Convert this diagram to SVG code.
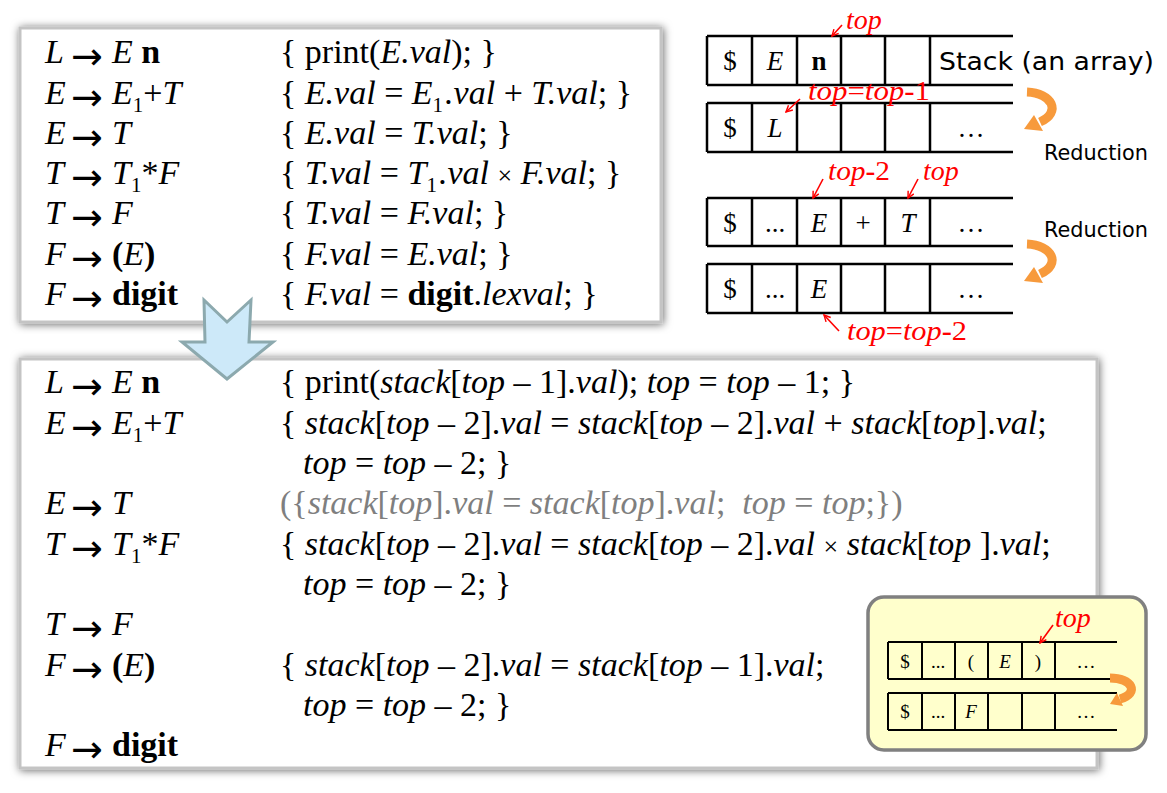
<svg xmlns="http://www.w3.org/2000/svg" width="1167" height="793" viewBox="0 0 1167 793">
<defs>
<style>
.t{font-family:'Liberation Serif','Times New Roman',serif;font-size:34px;fill:#000}
.i{font-style:italic}
.b{font-weight:bold}
.ar{font-family:'DejaVu Sans',sans-serif;font-size:38px;fill:#000}
.sub{font-size:21px}
.x{font-size:26px}
.gr{fill:#7f7f7f}
.red{font-family:'Liberation Serif','Times New Roman',serif;font-size:28px;fill:#ff0000}
.cell{font-family:'Liberation Serif','Times New Roman',serif;font-size:27px;fill:#000;text-anchor:middle}
.ycell{font-family:'Liberation Serif','Times New Roman',serif;font-size:19px;fill:#000;text-anchor:middle}
.sans{font-family:'DejaVu Sans','Liberation Sans',sans-serif;fill:#000}
.grid{stroke:#000;stroke-width:2.5;fill:none}
.ygrid{stroke:#000;stroke-width:2;fill:none}
.rl{stroke:#ff0000;stroke-width:1.6;fill:none}
.or{stroke:#f79a3c;stroke-width:9;fill:none}
.orh{fill:#f79a3c}
.box{fill:#fff;stroke:#c4c4c4;stroke-width:3}
</style>
<filter id="sh" x="-4%" y="-4%" width="108%" height="108%">
<feGaussianBlur in="SourceAlpha" stdDeviation="4"/>
<feOffset dx="1" dy="1" result="b"/>
<feFlood flood-color="#000" flood-opacity="0.6"/>
<feComposite in2="b" operator="in"/>
<feMerge><feMergeNode/><feMergeNode in="SourceGraphic"/></feMerge>
</filter>
<marker id="rh" viewBox="0 0 10 10" refX="9" refY="5" markerWidth="8" markerHeight="8" orient="auto" markerUnits="userSpaceOnUse">
<path d="M1,1 L9,5 L1,9" fill="none" stroke="#f00" stroke-width="1.8"/>
</marker>
</defs>

<g id="box-original">
<rect class="box" x="20" y="28" width="641" height="294" filter="url(#sh)"/>
<text class="t i" x="45" y="63">L</text><text class="ar" x="71" y="69">→</text><text class="t" x="112" y="63"><tspan class="i">E</tspan> <tspan class="b">n</tspan></text>
<text class="t" x="280" y="63">{ print(<tspan class="i">E.val</tspan>); }</text>
<text class="t i" x="45" y="104">E</text><text class="ar" x="71" y="110">→</text><text class="t" x="112" y="104"><tspan class="i">E</tspan><tspan class="sub" dy="8">1</tspan><tspan dy="-8">+</tspan><tspan class="i">T</tspan></text>
<text class="t" x="280" y="104">{ <tspan class="i">E.val</tspan> = <tspan class="i">E</tspan><tspan class="sub" dy="8">1</tspan><tspan class="i" dx="2" dy="-8">.val</tspan> + <tspan class="i">T.val</tspan>; }</text>
<text class="t i" x="45" y="144">E</text><text class="ar" x="71" y="150">→</text><text class="t i" x="112" y="144">T</text>
<text class="t" x="280" y="144">{ <tspan class="i">E.val</tspan> = <tspan class="i">T.val</tspan>; }</text>
<text class="t i" x="45" y="184">T</text><text class="ar" x="71" y="190">→</text><text class="t" x="112" y="184"><tspan class="i">T</tspan><tspan class="sub" dy="8">1</tspan><tspan dy="-8">*</tspan><tspan class="i">F</tspan></text>
<text class="t" x="280" y="184">{ <tspan class="i">T.val</tspan> = <tspan class="i">T</tspan><tspan class="sub" dy="8">1</tspan><tspan class="i" dx="2" dy="-8">.val</tspan> <tspan class="x">×</tspan> <tspan class="i">F.val</tspan>; }</text>
<text class="t i" x="45" y="224">T</text><text class="ar" x="71" y="230">→</text><text class="t i" x="112" y="224">F</text>
<text class="t" x="280" y="224">{ <tspan class="i">T.val</tspan> = <tspan class="i">F.val</tspan>; }</text>
<text class="t i" x="45" y="265">F</text><text class="ar" x="71" y="271">→</text><text class="t" x="112" y="265"><tspan class="b">(</tspan><tspan class="i">E</tspan><tspan class="b">)</tspan></text>
<text class="t" x="280" y="265">{ <tspan class="i">F.val</tspan> = <tspan class="i">E.val</tspan>; }</text>
<text class="t i" x="45" y="305">F</text><text class="ar" x="71" y="311">→</text><text class="t b" x="112" y="305">digit</text>
<text class="t" x="280" y="305">{ <tspan class="i">F.val</tspan> = <tspan class="b">digit</tspan>.<tspan class="i">lexval</tspan>; }</text>
</g>

<g id="box-stack">
<rect class="box" x="20" y="359" width="1077" height="409" filter="url(#sh)"/>
<text class="t i" x="45" y="393">L</text><text class="ar" x="71" y="399">→</text><text class="t" x="112" y="393"><tspan class="i">E</tspan> <tspan class="b">n</tspan></text>
<text class="t" x="280" y="393">{ print(<tspan class="i">stack</tspan>[<tspan class="i">top</tspan> – 1].<tspan class="i">val</tspan>); <tspan class="i">top</tspan> = <tspan class="i">top</tspan> – 1; }</text>
<text class="t i" x="45" y="434">E</text><text class="ar" x="71" y="440">→</text><text class="t" x="112" y="434"><tspan class="i">E</tspan><tspan class="sub" dy="8">1</tspan><tspan dy="-8">+</tspan><tspan class="i">T</tspan></text>
<text class="t" x="280" y="434">{ <tspan class="i">stack</tspan>[<tspan class="i">top</tspan> – 2].<tspan class="i">val</tspan> = <tspan class="i">stack</tspan>[<tspan class="i">top</tspan> – 2].<tspan class="i">val</tspan> + <tspan class="i">stack</tspan>[<tspan class="i">top</tspan>].<tspan class="i">val</tspan>;</text>
<text class="t" x="303" y="474"><tspan class="i">top</tspan> = <tspan class="i">top</tspan> – 2; }</text>
<text class="t i" x="45" y="514">E</text><text class="ar" x="71" y="520">→</text><text class="t i" x="112" y="514">T</text>
<text class="t gr" x="280" y="514">({<tspan class="i">stack</tspan>[<tspan class="i">top</tspan>].<tspan class="i">val</tspan> = <tspan class="i">stack</tspan>[<tspan class="i">top</tspan>].<tspan class="i">val</tspan>;&#160; <tspan class="i">top</tspan> = <tspan class="i">top</tspan>;})</text>
<text class="t i" x="45" y="555">T</text><text class="ar" x="71" y="561">→</text><text class="t" x="112" y="555"><tspan class="i">T</tspan><tspan class="sub" dy="8">1</tspan><tspan dy="-8">*</tspan><tspan class="i">F</tspan></text>
<text class="t" x="280" y="555">{ <tspan class="i">stack</tspan>[<tspan class="i">top</tspan> – 2].<tspan class="i">val</tspan> = <tspan class="i">stack</tspan>[<tspan class="i">top</tspan> – 2].<tspan class="i">val</tspan> <tspan class="x">×</tspan> <tspan class="i">stack</tspan>[<tspan class="i">top</tspan> ].<tspan class="i">val</tspan>;</text>
<text class="t" x="303" y="595"><tspan class="i">top</tspan> = <tspan class="i">top</tspan> – 2; }</text>
<text class="t i" x="45" y="635">T</text><text class="ar" x="71" y="641">→</text><text class="t i" x="112" y="635">F</text>
<text class="t i" x="45" y="676">F</text><text class="ar" x="71" y="682">→</text><text class="t" x="112" y="676"><tspan class="b">(</tspan><tspan class="i">E</tspan><tspan class="b">)</tspan></text>
<text class="t" x="280" y="676">{ <tspan class="i">stack</tspan>[<tspan class="i">top</tspan> – 2].<tspan class="i">val</tspan> = <tspan class="i">stack</tspan>[<tspan class="i">top</tspan> – 1].<tspan class="i">val</tspan>;</text>
<text class="t" x="303" y="716"><tspan class="i">top</tspan> = <tspan class="i">top</tspan> – 2; }</text>
<text class="t i" x="45" y="756">F</text><text class="ar" x="71" y="762">→</text><text class="t b" x="112" y="756">digit</text>
</g>

<g id="block-arrow">
<polygon points="204,300 227,322 251,300 249,342 273,342 227,379 182,342 205,342" fill="#cde9f9" stroke="#8ca9ae" stroke-width="3" stroke-linejoin="miter"/>
</g>

<g id="stack1">
<path class="grid" d="M707,36H1013M707,85H1013M707,36V85M752,36V85M797,36V85M841,36V85M885,36V85M930,36V85"/>
<text class="cell" x="730" y="70">$</text>
<text class="cell i" x="775" y="70">E</text>
<text class="cell b" x="819" y="70">n</text>
<text class="sans" x="939" y="70" font-size="25" textLength="215" lengthAdjust="spacingAndGlyphs">Stack (an array)</text>
</g>

<g id="stack2">
<path class="grid" d="M707,103H1013M707,152H1013M707,103V152M752,103V152M797,103V152M841,103V152M885,103V152M930,103V152"/>
<text class="cell" x="730" y="137">$</text>
<text class="cell i" x="775" y="137">L</text>
<text class="cell" x="971" y="137">…</text>
</g>

<g id="stack3">
<path class="grid" d="M707,198H1013M707,246H1013M707,198V246M752,198V246M797,198V246M841,198V246M885,198V246M930,198V246"/>
<text class="cell" x="730" y="232">$</text>
<text class="cell" x="775" y="232">...</text>
<text class="cell i" x="819" y="232">E</text>
<text class="cell" x="863" y="232">+</text>
<text class="cell i" x="908" y="232">T</text>
<text class="cell" x="971" y="232">…</text>
</g>

<g id="stack4">
<path class="grid" d="M707,264H1013M707,313H1013M707,264V313M752,264V313M797,264V313M841,264V313M885,264V313M930,264V313"/>
<text class="cell" x="730" y="298">$</text>
<text class="cell" x="775" y="298">...</text>
<text class="cell i" x="819" y="298">E</text>
<text class="cell" x="971" y="298">…</text>
</g>

<g id="labels">
<text class="red i" x="846" y="29">top</text>
<text class="red" x="808" y="100" textLength="122" lengthAdjust="spacingAndGlyphs"><tspan class="i">top</tspan>=<tspan class="i">top</tspan><tspan class="b">-</tspan>1</text>
<text class="red" x="828" y="180" textLength="62" lengthAdjust="spacingAndGlyphs"><tspan class="i">top</tspan><tspan class="b">-</tspan>2</text>
<text class="red i" x="923" y="180">top</text>
<text class="red" x="847" y="340" textLength="120" lengthAdjust="spacingAndGlyphs"><tspan class="i">top</tspan>=<tspan class="i">top</tspan><tspan class="b">-</tspan>2</text>
<text class="sans" x="1044" y="160" font-size="21" textLength="104" lengthAdjust="spacingAndGlyphs">Reduction</text>
<text class="sans" x="1044" y="237" font-size="21" textLength="104" lengthAdjust="spacingAndGlyphs">Reduction</text>
</g>

<g id="yellow-box">
<rect x="868" y="597" width="278" height="153" rx="16" fill="#ffffcc" stroke="#808080" stroke-width="3.5"/>
<path class="ygrid" d="M888,642H1117M888,679H1117M888,693H1117M888,730H1117M888,642V679M922,642V679M955,642V679M988,642V679M1022,642V679M1055,642V679M888,693V730M922,693V730M955,693V730M988,693V730M1022,693V730M1055,693V730"/>
<text class="ycell" x="905" y="668">$</text>
<text class="ycell" x="938" y="668">...</text>
<text class="ycell" x="971" y="668">(</text>
<text class="ycell i" x="1005" y="668">E</text>
<text class="ycell" x="1038" y="668">)</text>
<text class="ycell" x="1086" y="668">…</text>
<text class="ycell" x="905" y="718">$</text>
<text class="ycell" x="938" y="718">...</text>
<text class="ycell i" x="971" y="718">F</text>
<text class="ycell" x="1086" y="718">…</text>
<text class="red i" x="1055" y="627">top</text>
</g>

<g id="connectors">
<line class="rl" x1="842" y1="25" x2="832" y2="36" marker-end="url(#rh)"/>
<line class="rl" x1="800" y1="99" x2="786" y2="112" marker-end="url(#rh)"/>
<line class="rl" x1="823" y1="179" x2="813" y2="198" marker-end="url(#rh)"/>
<line class="rl" x1="918" y1="179" x2="908" y2="198" marker-end="url(#rh)"/>
<line class="rl" x1="839" y1="331" x2="824" y2="315" marker-end="url(#rh)"/>
<line class="rl" x1="1053" y1="625" x2="1040" y2="643" marker-end="url(#rh)"/>
<path class="or" d="M1027,92 C1052,93 1062,112 1040,122"/>
<polygon class="orh" points="1024,129 1034,115 1043,131"/>
<g transform="translate(0,152)">
<path class="or" d="M1027,92 C1052,93 1062,112 1040,122"/>
<polygon class="orh" points="1024,129 1034,115 1043,131"/>
</g>
<path class="or" stroke-width="7" d="M1110,678 C1132,678 1140,693 1120,699"/>
<polygon class="orh" points="1110,704 1117,693 1123,706"/>
</g>
</svg>
